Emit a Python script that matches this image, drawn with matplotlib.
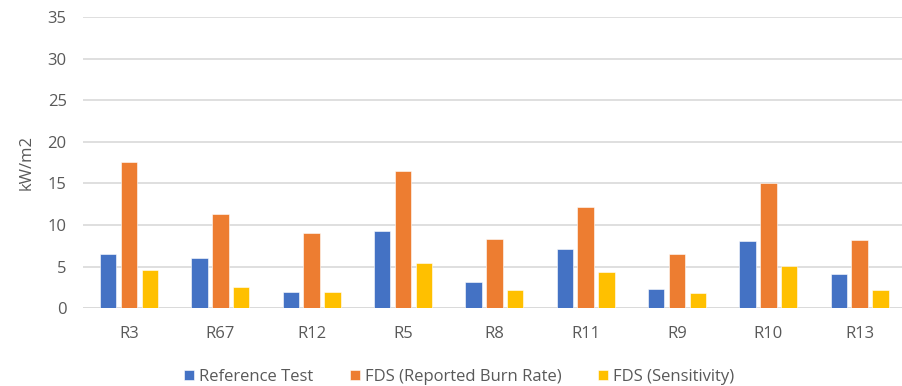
import matplotlib
matplotlib.use("Agg")
import matplotlib.pyplot as plt
import numpy as np

# heat release per test case
tests = ["R3", "R67", "R12", "R5", "R8", "R11", "R9", "R10", "R13"]
reference_test = [6.5, 6.0, 1.9, 9.3, 3.2, 7.1, 2.3, 8.1, 4.1]
fds_reported = [17.6, 11.3, 9.0, 16.5, 8.3, 12.2, 6.5, 15.0, 8.2]
fds_sensitivity = [4.6, 2.6, 1.9, 5.5, 2.2, 4.4, 1.8, 5.1, 2.2]

series = [
    ("Reference Test", reference_test, "#4472C4"),
    ("FDS (Reported Burn Rate)", fds_reported, "#ED7D31"),
    ("FDS (Sensitivity)", fds_sensitivity, "#FFC000"),
]

plt.rcParams["font.family"] = ["Open Sans", "DejaVu Sans"]
text_color = "#595959"
grid_color = "#D9D9D9"
fs = 12

fig = plt.figure(figsize=(9.02, 3.86), dpi=100)
ax = fig.add_axes([0.0924, 0.2013, 0.9113, 0.7547])

x = np.arange(len(tests))
width = 0.18
pitch = 0.227
for i, (name, vals, color) in enumerate(series):
    ax.bar(x + (i - 1) * pitch, vals, width, color=color, label=name,
           edgecolor="white", linewidth=0.4, zorder=3)

ax.set_xlim(-0.5, len(tests) - 0.5)
ax.set_ylim(0, 35)
ax.set_yticks(np.arange(0, 36, 5))
ax.set_xticks(x)
ax.set_xticklabels(tests)
ax.yaxis.grid(True, color=grid_color, linewidth=1.2, zorder=0)
ax.set_axisbelow(True)
for side in ["top", "right", "left", "bottom"]:
    ax.spines[side].set_visible(False)
ax.axhline(0, color=grid_color, linewidth=1.2, zorder=1)
ax.tick_params(axis="both", length=0, labelsize=fs, colors=text_color)
ax.tick_params(axis="y", pad=12)
ax.tick_params(axis="x", pad=13)

fig.text(27 / 902, 1 - 163 / 386, "kW/m2", rotation=90, ha="center",
         va="center", fontsize=fs, color=text_color)

fig.legend(loc="center", bbox_to_anchor=(459 / 902, 1 - 377 / 386), ncol=3,
           frameon=False, fontsize=fs, labelcolor=text_color,
           handlelength=0.6, handleheight=0.6, handletextpad=0.3,
           columnspacing=2.2)

fig.savefig("out.png", dpi=100)
